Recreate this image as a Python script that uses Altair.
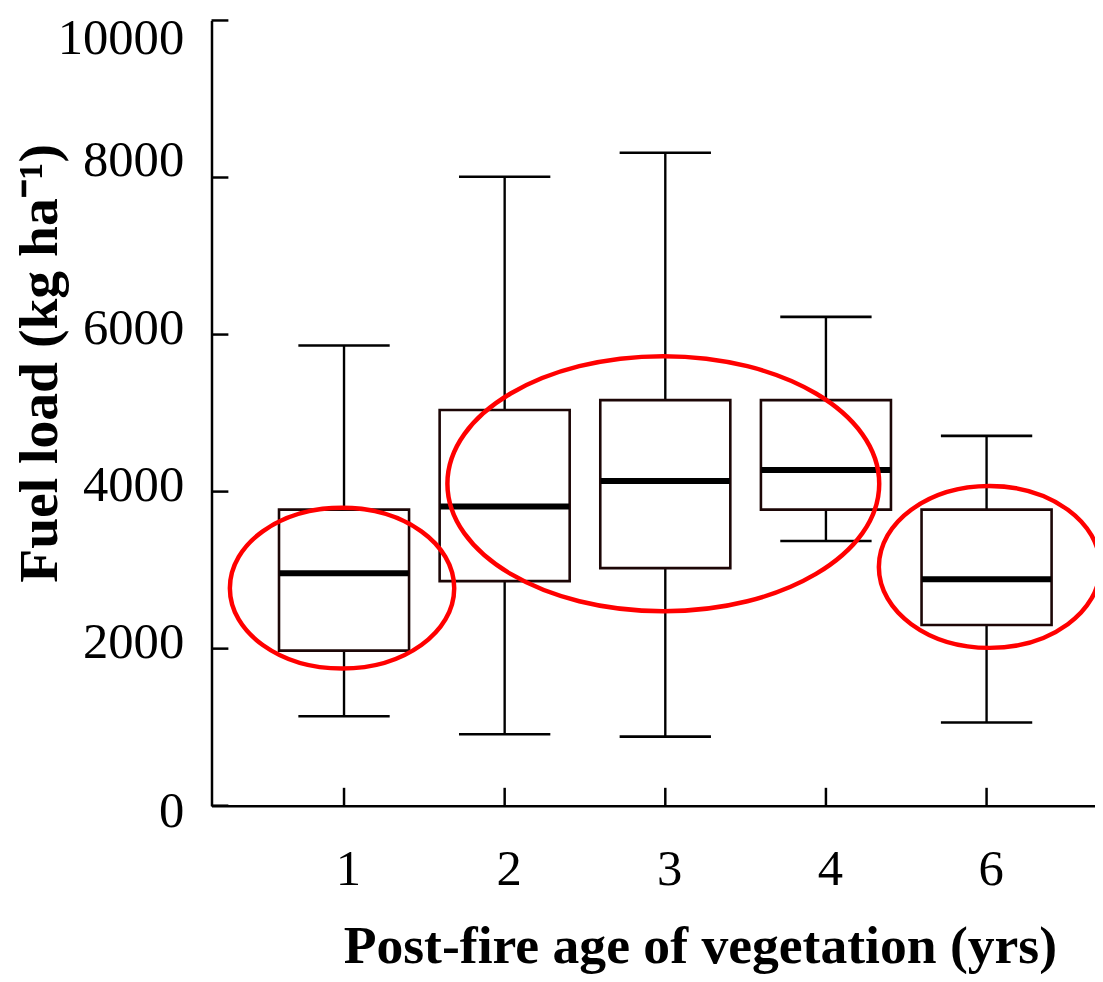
import altair as alt
import pandas as pd

# ---------------- data ----------------
ages = ["1", "2", "3", "4", "6"]
whisker_low = [1140, 910, 880, 3370, 1060]
q1 = [1975, 2860, 3025, 3770, 2300]
median = [2960, 3810, 4135, 4275, 2885]
q3 = [3770, 5040, 5165, 5165, 3770]
whisker_high = [5860, 8010, 8315, 6225, 4710]

y_tick_values = [0, 2000, 4000, 6000, 8000, 10000]

# highlighted groups (red ellipses): centre category and centre value
ellipse_age = ["1", "3", "6"]
ellipse_value = [2770, 4100, 3040]

Y_TITLE = "Fuel load (kg ha\u207b\u00b9)"
X_TITLE = "Post-fire age of vegetation (yrs)"

# ---------------- styles ----------------
FONT = "Liberation Serif"
W, H = 890, 791
ellipse_half_w = [113, 217.5, 111.5]
ellipse_half_h = [81, 128.5, 81.5]
ellipse_dx = [-2, -2, 3]

df = pd.DataFrame({
    "age": ages, "lo": whisker_low, "q1": q1, "median": median,
    "q3": q3, "hi": whisker_high,
})
ticks_df = pd.DataFrame({"v": y_tick_values})
xt_df = pd.DataFrame({"age": ages})

x_scale = alt.Scale(type="point", domain=ages, padding=0.75, align=0.55)
y_scale = alt.Scale(domain=[0, 10000], nice=False, zero=True)

x_axis = alt.Axis(
    ticks=False, tickSize=0, grid=False, domainColor="black", domainWidth=2.5,
    labelAngle=0, labelFont=FONT, labelFontSize=51, labelColor="black",
    labelPadding=79, labelBaseline="alphabetic", labelOffset=4,
    titleFont=FONT, titleFontSize=54, titleFontWeight="bold", titleColor="black",
    titleX=492, titleY=158, titleBaseline="alphabetic", titleAlign="center", titleAngle=0,
)
y_axis = alt.Axis(
    values=y_tick_values, format="d", ticks=False, tickSize=0, grid=False,
    domainColor="black", domainWidth=2.5,
    labelFont=FONT, labelFontSize=51, labelColor="black", labelPadding=28,
    labelBaseline={"condition": {"test": "datum.value == 10000", "value": "top"},
                   "value": "middle"},
    labelOffset={"condition": [
        {"test": "datum.value == 10000", "value": -7},
        {"test": "datum.value == 0", "value": 6},
        {"test": "datum.value == 8000", "value": -17},
    ], "value": -6},
    labelOverlap=False,
    titleFont=FONT, titleFontSize=56, titleFontWeight="bold", titleColor="black",
    titleX=-173, titleY=345, titleAngle=270, titleAlign="center", titleBaseline="middle",
)


def xe(field="age"):
    return alt.X(f"{field}:N", scale=x_scale, axis=x_axis, title=X_TITLE)


def ye(field):
    return alt.Y(f"{field}:Q", scale=y_scale, axis=y_axis, title=Y_TITLE)


base = alt.Chart(df)

whiskers = base.mark_rule(color="black", strokeWidth=2.4).encode(
    x=xe(), y=ye("lo"), y2="hi:Q")
boxes = base.mark_bar(size=131, fill="white", stroke="#1c0606", strokeWidth=2.6).encode(
    x=xe(), y=ye("q1"), y2="q3:Q")
medians = base.mark_tick(size=130, thickness=6, color="black", opacity=1).encode(
    x=xe(), y=ye("median"))
caps = base.transform_fold(["lo", "hi"], as_=["k", "v"]).mark_tick(
    size=92, thickness=2.6, color="black", opacity=1).encode(x=xe(), y=ye("v"))

yticks = alt.Chart(ticks_df).mark_tick(
    orient="horizontal", size=17, thickness=2.5, color="black", opacity=1, xOffset=8.5
).encode(x=alt.value(0), y=ye("v"))
xticks = alt.Chart(xt_df).mark_tick(
    orient="vertical", size=18, thickness=2.5, color="black", opacity=1, yOffset=-9
).encode(x=xe(), y=alt.value(H))


def ellipse_path(r, k=0.5523):
    kr = k * r
    return (f"M-1,0 C-1,{-kr:.4f} {-k},{-r:.4f} 0,{-r:.4f} "
            f"C{k},{-r:.4f} 1,{-kr:.4f} 1,0 "
            f"C1,{kr:.4f} {k},{r:.4f} 0,{r:.4f} "
            f"C{-k},{r:.4f} -1,{kr:.4f} -1,0 Z")


ellipses = []
for i in range(len(ellipse_age)):
    a, b = ellipse_half_w[i], ellipse_half_h[i]
    edf = pd.DataFrame({"age": [ellipse_age[i]], "v": [ellipse_value[i]]})
    ellipses.append(
        alt.Chart(edf).mark_point(
            shape=ellipse_path(b / a), size=4 * a * a, filled=False,
            stroke="#ff0000", strokeWidth=4.5, opacity=1, xOffset=ellipse_dx[i]
        ).encode(x=xe(), y=ye("v"))
    )

chart = alt.layer(whiskers, boxes, medians, caps, yticks, xticks, *ellipses).properties(
    width=W, height=H,
    padding={"left": 205, "top": 9, "right": 0, "bottom": 166},
    autosize=alt.AutoSizeParams(type="none"),
).configure(
    background="white",
    view=alt.ViewConfig(stroke="transparent", strokeWidth=0),
)

chart.save("out.html", embed_options={"renderer": "svg", "actions": False})
